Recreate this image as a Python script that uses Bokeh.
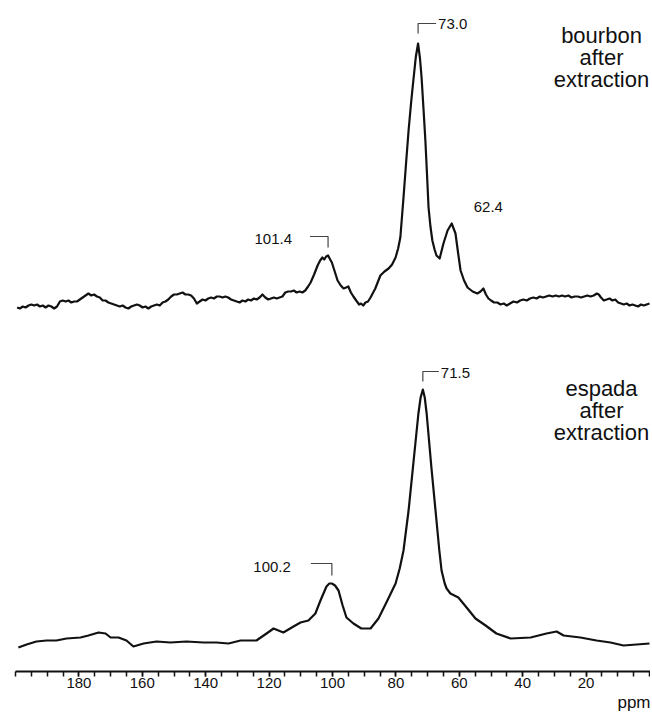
from bokeh.plotting import figure
from bokeh.models import Range1d, FixedTicker, Label, Title
from bokeh.embed import file_html
from bokeh.resources import INLINE

# ---------------- data ----------------
# bourbon after extraction: chemical shift (ppm) / intensity (arbitrary units)
bourbon_ppm = [199.5, 198.6, 197.7, 196.8, 195.9, 195.0, 194.1, 193.2, 192.3, 191.4,
               190.5, 189.6, 188.7, 187.8, 186.9, 186.0, 185.1, 184.2, 183.3, 182.4,
               181.5, 180.6, 179.7, 178.8, 177.9, 177.0, 176.1, 175.2, 174.3, 173.4,
               172.5, 171.6, 170.7, 169.8, 168.9, 168.0, 167.1, 166.2, 165.3, 164.4,
               163.5, 162.6, 161.7, 160.8, 159.9, 159.0, 158.1, 157.2, 156.3, 155.4,
               154.5, 153.6, 152.7, 151.8, 150.9, 150.0, 149.1, 148.2, 147.3, 146.4,
               145.5, 144.6, 143.7, 142.8, 141.9, 141.0, 140.1, 139.2, 138.3, 137.4,
               136.5, 135.6, 134.7, 133.8, 132.9, 132.0, 131.1, 130.2, 129.3, 128.4,
               127.5, 126.6, 125.7, 124.8, 123.9, 123.0, 122.1, 121.2, 120.3, 119.4,
               118.5, 117.6, 116.7, 115.8, 114.9, 114.0, 113.1, 112.2, 111.3, 110.4,
               109.5, 108.6, 107.7, 106.9, 105.8, 104.7, 103.9, 103.2, 102.6, 102.0,
               101.4, 100.9, 100.2, 99.6, 98.9, 98.4, 97.4, 96.5, 95.7, 95.0,
               94.2, 93.4, 92.3, 91.6, 91.0, 90.3, 89.6, 88.8, 88.0, 86.5,
               84.9, 83.6, 82.3, 81.2, 80.1, 79.3, 78.6, 77.6, 76.8, 76.0,
               75.2, 74.4, 73.7, 73.0, 72.4, 71.9, 71.3, 70.7, 70.2, 69.7,
               69.1, 68.5, 67.8, 67.2, 66.2, 65.0, 63.7, 62.4, 61.2, 60.4,
               59.6, 58.5, 57.4, 55.8, 54.3, 53.3, 52.4, 51.6, 50.8, 50.0,
               49.0, 48.0, 47.0, 46.0, 45.0, 44.0, 42.9, 41.8, 40.8, 39.8,
               38.7, 37.7, 36.6, 35.6, 34.6, 33.6, 32.6, 31.6, 30.6, 29.6,
               28.6, 27.6, 26.6, 25.6, 24.6, 23.6, 22.6, 21.6, 20.6, 19.6,
               18.6, 17.6, 16.6, 16.0, 15.3, 14.4, 13.5, 12.6, 11.7, 10.8,
               9.9, 9.0, 8.1, 7.2, 6.3, 5.4, 4.5, 3.6, 2.7, 1.8,
               0.9, 0.0]
bourbon_int = [1, 0, 2, 1, 3, 4, 3, 4, 2, 3,
               1, 3, 2, 0, 2, 7, 8, 7, 8, 6,
               7, 7, 9, 11, 13, 15, 13, 14, 12, 11,
               8, 8, 6, 5, 4, 3, 2, 3, 1, 0,
               2, 3, 4, 3, 1, 2, 0, 2, 3, 4,
               3, 6, 7, 9, 12, 14, 14, 15, 16, 14,
               14, 13, 10, 5, 7, 9, 8, 10, 11, 10,
               12, 12, 11, 12, 11, 9, 8, 7, 6, 8,
               7, 9, 8, 10, 9, 11, 14, 11, 9, 10,
               11, 10, 11, 12, 16, 17, 17, 18, 16, 17,
               16, 18, 22, 26, 34, 43, 48, 51, 49, 52,
               53, 50, 46, 40, 33, 28, 23, 20, 21, 22,
               16, 12, 7, 4, 5, 3, 6, 7, 11, 20,
               33, 37, 40, 44, 51, 60, 71, 111, 145, 178,
               206, 231, 252, 265, 250, 231, 200, 168, 135, 101,
               82, 68, 59, 53, 50, 65, 78, 85, 75, 56,
               38, 28, 21, 17, 15, 17, 20, 14, 10, 8,
               6, 6, 4, 5, 3, 5, 7, 6, 8, 9,
               8, 10, 11, 10, 12, 11, 12, 13, 12, 13,
               12, 13, 12, 13, 11, 12, 12, 11, 12, 13,
               12, 13, 15, 14, 11, 8, 9, 10, 8, 9,
               6, 5, 4, 5, 3, 4, 3, 2, 4, 3,
               4, 5]

# espada after extraction
espada_ppm = [199.1, 196.5, 193.4, 190.2, 187.1, 183.9, 179.5, 177.0, 173.8, 171.6,
              170.0, 167.5, 165.0, 162.8, 159.6, 155.5, 151.1, 146.1, 140.7, 136.6,
              132.8, 129.0, 124.0, 120.8, 118.6, 115.5, 112.3, 110.1, 107.6, 105.4,
              103.8, 101.9, 101.0, 100.2, 99.2, 98.1, 96.8, 95.6, 93.4, 90.9,
              88.0, 85.5, 83.0, 80.1, 78.8, 77.6, 76.0, 74.4, 72.9, 72.2,
              71.5, 70.9, 70.3, 68.8, 67.2, 66.3, 65.6, 64.6, 64.0, 62.8,
              60.3, 57.7, 54.9, 51.7, 48.3, 43.8, 37.5, 32.5, 29.3, 27.1,
              21.8, 16.7, 12.3, 8.2, 4.1, 0.0]
espada_int = [-2, 1, 4, 5, 5, 7, 8, 10, 13, 12,
              8, 8, 5, -1, 2, 4, 3, 4, 3, 3,
              2, 5, 5, 12, 17, 13, 19, 23, 25, 32,
              45, 59, 62, 62, 60, 55, 40, 28, 22, 17,
              17, 27, 43, 62, 77, 95, 135, 185, 232, 248,
              256, 248, 232, 178, 125, 95, 75, 62, 57, 52,
              48, 38, 27, 20, 12, 7, 8, 12, 14, 10,
              8, 5, 3, 0, 1, 2]

series_names = [["bourbon", "after", "extraction"], ["espada", "after", "extraction"]]
peak_labels_top = ["73.0", "101.4", "62.4"]
peak_labels_bottom = ["71.5", "100.2"]
major_ticks = [180, 160, 140, 120, 100, 80, 60, 40, 20]
minor_ticks = list(range(0, 205, 5))
axis_title = "ppm"

# ---------------- layout constants ----------------
W, H = 650, 714
LEFT, BOTTOM = 15, 43
FRAME_W, FRAME_H = W - LEFT, H - BOTTOM
PX_PER_PPM = 3.17
X_START = 200.0
X_END = X_START - FRAME_W / PX_PER_PPM
ZERO_Y = 677                       # intensity units are px above this line
Y_END = ZERO_Y
Y_START = ZERO_Y - FRAME_H
TOP_OFFSET = 369                   # baseline of upper trace
BOT_OFFSET = 32                    # baseline of lower trace

FONT = "Liberation Sans"
INK = "#111111"

p = figure(width=W, height=H, x_range=Range1d(X_START, X_END), y_range=Range1d(Y_START, Y_END),
           output_backend="svg", toolbar_location=None, y_axis_location=None,
           min_border_left=LEFT, min_border_right=0, min_border_top=0, min_border_bottom=BOTTOM)
p.xgrid.visible = False
p.ygrid.visible = False
p.outline_line_color = None
p.background_fill_color = "white"
p.border_fill_color = "white"

ax = p.xaxis[0]
ax.ticker = FixedTicker(ticks=major_ticks, minor_ticks=minor_ticks)
ax.axis_line_width = 2
ax.axis_line_color = INK
ax.major_tick_line_color = INK
ax.minor_tick_line_color = INK
ax.major_tick_line_width = 1.5
ax.minor_tick_line_width = 1.5
ax.major_tick_in = 0
ax.major_tick_out = 5
ax.minor_tick_in = 0
ax.minor_tick_out = 5
ax.major_label_standoff = 1
ax.major_label_text_font = FONT
ax.major_label_text_font_size = "15px"
ax.major_label_text_color = INK

# axis unit, right-aligned under the axis
p.add_layout(Title(text=axis_title, align="right", text_font=FONT, text_font_size="17px",
                   text_font_style="normal", text_color=INK, standoff=0), "below")

top_y = [TOP_OFFSET + v for v in bourbon_int]
bot_y = [BOT_OFFSET + v for v in espada_int]
p.line(bourbon_ppm, top_y, line_color=INK, line_width=2.2, line_join="round")
p.line(espada_ppm, bot_y, line_color=INK, line_width=2.2, line_join="round")


def ppm_dx(px):
    return px / PX_PER_PPM


def add_label(x, y, text, size="15px", align="left", baseline="middle"):
    p.add_layout(Label(x=x, y=y, text=text, text_font=FONT, text_font_size=size,
                       text_color=INK, text_align=align, text_baseline=baseline))


def bracket(peak_ppm, peak_val, gap, length, arm_px, direction):
    y0 = peak_val + gap
    y1 = y0 + length
    x1 = peak_ppm + direction * ppm_dx(arm_px)
    p.line([peak_ppm, peak_ppm, x1], [y0, y1, y1], line_color="#444444", line_width=1.2)
    return x1, y1


# upper trace annotations
i_a = bourbon_int.index(max(bourbon_int))
x1, y1 = bracket(bourbon_ppm[i_a], top_y[i_a], 10, 10, 18, -1)
add_label(x1 - ppm_dx(2), y1, peak_labels_top[0])

i_b = bourbon_ppm.index(101.4)
x1, y1 = bracket(101.4, top_y[i_b], 8, 11, 18, +1)
add_label(x1 + ppm_dx(18), y1 - 2, peak_labels_top[1], align="right")

i_c = bourbon_ppm.index(62.4)
add_label(62.4 - ppm_dx(22), top_y[i_c] + 17, peak_labels_top[2])

# lower trace annotations
i_e = espada_int.index(max(espada_int))
x1, y1 = bracket(espada_ppm[i_e], bot_y[i_e], 8, 10, 16, -1)
add_label(x1 - ppm_dx(2), y1 - 1, peak_labels_bottom[0])

i_f = espada_ppm.index(100.2)
x1, y1 = bracket(100.2, bot_y[i_f], 8, 12, 21, +1)
add_label(x1 + ppm_dx(20), y1 - 3, peak_labels_bottom[1], align="right")

# sample names
name_x = X_START - ppm_dx(586)
for k, line in enumerate(series_names[0]):
    add_label(name_x, TOP_OFFSET + 273 - 22 * k, line, size="22px", align="center",
              baseline="alphabetic")
for k, line in enumerate(series_names[1]):
    add_label(name_x, BOT_OFFSET + 257 - 22 * k, line, size="22px", align="center",
              baseline="alphabetic")

open("out.html", "w").write(file_html(p, INLINE))
